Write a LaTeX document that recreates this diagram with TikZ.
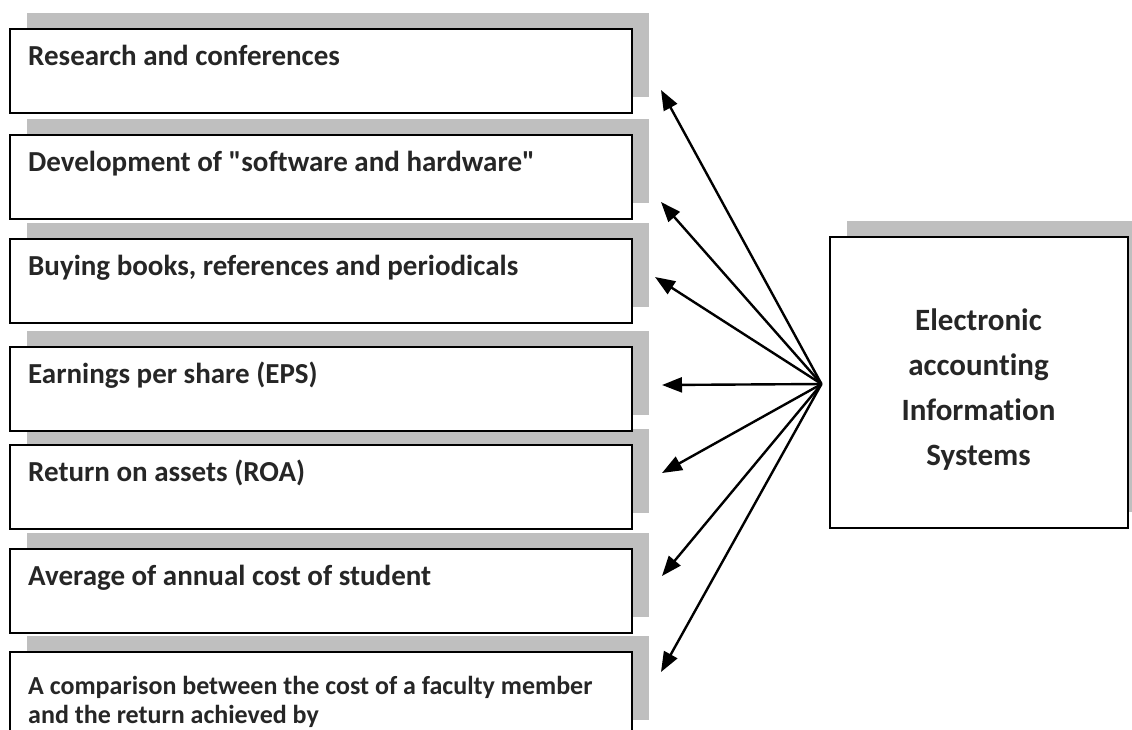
\documentclass[tikz,border=0pt]{standalone}
\usepackage{fontspec}
\setmainfont{Carlito}[Ligatures={TeX,NoCommon}]
\usetikzlibrary{arrows.meta,shadows}
\definecolor{shadowgray}{HTML}{BFBFBF}
\definecolor{textdark}{HTML}{262626}

\begin{document}
\begin{tikzpicture}[x=1pt, y=-1pt,
  item/.style={rectangle, draw=black, line width=2pt, fill=white, anchor=north west,
    minimum width=622pt, minimum height=84pt, inner sep=0pt,
    general shadow={fill=shadowgray, shadow xshift=17pt, shadow yshift=16pt}},
  itemtext/.style={anchor=base west, inner sep=0pt, align=left,
    text=textdark, font=\bfseries\fontsize{29}{34}\selectfont},
  link/.style={-{Triangle[length=20pt, width=15pt]}, line width=2.4pt},
]

\useasboundingbox (0,0) rectangle (1132,729);
\clip (0,0) rectangle (1132,729);

% Left column: one shadowed box per item, bottom first so each shadow sits under the box above
\foreach \i/\top in {7/651, 6/548, 5/444, 4/346, 3/238, 2/134, 1/28} {
  \node[item] (box\i) at (9,\top) {};
}

\node[itemtext] (lab1) at ([xshift=19pt, yshift=-37pt]box1.north west) {Research and conferences};
\node[itemtext] (lab2) at ([xshift=19pt, yshift=-37pt]box2.north west) {Development of \textquotedbl software and hardware\textquotedbl};
\node[itemtext] (lab3) at ([xshift=19pt, yshift=-37pt]box3.north west) {Buying books, references and periodicals};
\node[itemtext] (lab4) at ([xshift=19pt, yshift=-37pt]box4.north west) {Earnings per share (EPS)};
\node[itemtext] (lab5) at ([xshift=19pt, yshift=-37pt]box5.north west) {Return on assets (ROA)};
\node[itemtext] (lab6) at ([xshift=19pt, yshift=-37pt]box6.north west) {Average of annual cost of student};
% two lines: base anchor is the last line here
\node[itemtext, font=\bfseries\fontsize{26}{29}\selectfont] (lab7) at ([xshift=19pt, yshift=-72pt]box7.north west)
  {A comparison between the cost of a faculty member\\and the return achieved by};

% Right box
\node[rectangle, draw=black, line width=2pt, fill=white, minimum width=298pt, minimum height=291pt,
  general shadow={fill=shadowgray, shadow xshift=17pt, shadow yshift=16pt}]
  at (978.5,382) (eais) {};
\node[align=center, text=textdark, font=\bfseries\fontsize{31}{45}\selectfont]
  at ([yshift=-8pt]eais.center) (eaistext) {Electronic\\accounting\\Information\\Systems};

% Arrows fanning out from the right box
\coordinate (hub) at ([xshift=-7pt, yshift=-2pt]eais.west);
\foreach \i/\tx/\ty in {1/661/90, 2/661/202, 3/655/277, 4/662/385, 5/662/473, 6/662/576, 7/661/672} {
  \coordinate (tip\i) at (\tx,\ty);
  \draw[link] (hub) -- (tip\i);
}

\end{tikzpicture}
\end{document}
